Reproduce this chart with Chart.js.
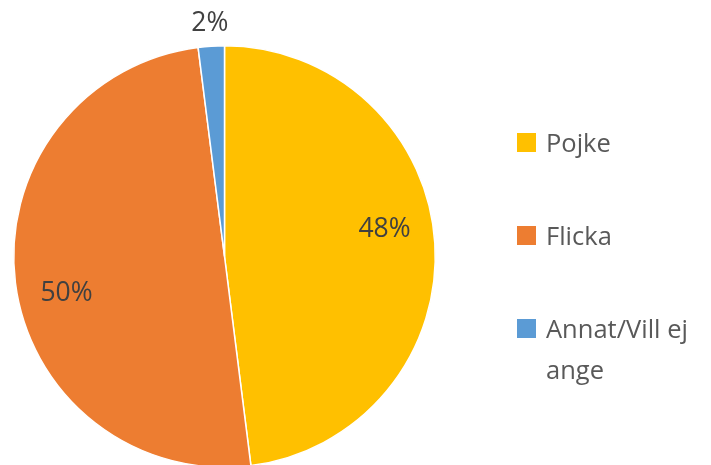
<!DOCTYPE html>
<html>
<head>
<meta charset="utf-8">
<script src="https://cdn.jsdelivr.net/npm/chart.js@4"></script>
<style>
  html, body { margin: 0; padding: 0; background: #fff; overflow: hidden; }
  #wrap { position: relative; width: 711px; height: 480px; }
  #legend { position: absolute; left: 517px; top: 0; font-family: "Open Sans", sans-serif; font-size: 25.5px; color: #595959; }
  .item { position: absolute; left: 0; width: 200px; line-height: 41px; }
  .box { position: absolute; left: 0; width: 19px; height: 19px; }
  .txt { position: absolute; left: 29px; white-space: nowrap; }
</style>
</head>
<body>
<div id="wrap">
  <canvas id="pie" width="711" height="480"></canvas>
  <div id="legend"></div>
</div>
<script>
const labels = ["Pojke", "Flicka", "Annat/Vill ej ange"];
const values = [48, 50, 2];
const colors = ["#FFC000", "#ED7D31", "#5B9BD5"];

// legend (Excel style, right side)
const legendTops = [122, 215, 308];
const legend = document.getElementById("legend");
labels.forEach((l, i) => {
  const parts = l === "Annat/Vill ej ange" ? ["Annat/Vill ej", "ange"] : [l];
  const div = document.createElement("div");
  div.className = "item";
  div.style.top = legendTops[i] + "px";
  div.innerHTML = `<div class="box" style="top:11px;background:${colors[i]}"></div>` +
    parts.map((p, j) => `<div class="txt" style="top:${j * 41}px">${p}</div>`).join("");
  legend.appendChild(div);
});

// percent labels (Excel best fit: inside a bit before mid-angle, small ones outside)
const pctLabels = {
  id: "pctLabels",
  afterDatasetsDraw(chart) {
    const ctx = chart.ctx;
    const meta = chart.getDatasetMeta(0);
    const total = values.reduce((a, b) => a + b, 0);
    ctx.save();
    ctx.font = "26.5px 'Open Sans'";
    ctx.fillStyle = "#404040";
    ctx.textAlign = "center";
    ctx.textBaseline = "middle";
    meta.data.forEach((arc, i) => {
      const pct = values[i] / total * 100;
      const outside = pct < 5;
      const mid = (arc.startAngle + arc.endAngle) / 2 - (outside ? 0 : 6 * Math.PI / 180);
      const r = outside ? arc.outerRadius * 1.11 : arc.outerRadius * 0.77;
      const x = arc.x + Math.cos(mid) * r;
      const y = arc.y + Math.sin(mid) * r;
      ctx.fillText(Math.round(pct) + "%", x, y);
    });
    ctx.restore();
  }
};

new Chart(document.getElementById("pie"), {
  type: "pie",
  data: {
    labels: labels,
    datasets: [{
      data: values,
      backgroundColor: colors,
      borderColor: "#fff",
      borderWidth: 1.5
    }]
  },
  options: {
    responsive: false,
    animation: false,
    layout: { padding: { left: 13, top: 45, right: 275, bottom: 12 } },
    plugins: {
      legend: { display: false },
      tooltip: { enabled: false }
    }
  },
  plugins: [pctLabels]
});
</script>
</body>
</html>
